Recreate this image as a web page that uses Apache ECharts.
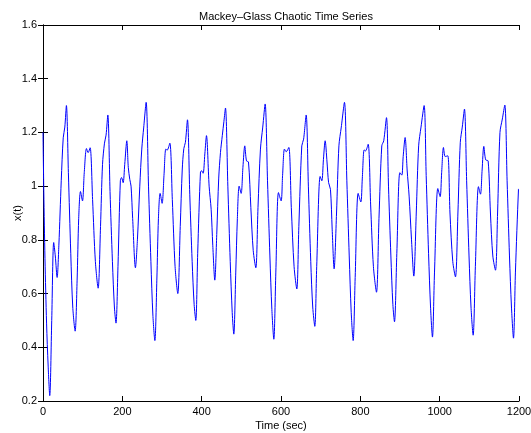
<!DOCTYPE html>
<html><head><meta charset="utf-8">
<script src="https://cdn.jsdelivr.net/npm/echarts@6/dist/echarts.min.js"></script>
<style>html,body{margin:0;padding:0;background:#fff}#c{width:531px;height:433px}</style>
</head><body><div id="c"></div>
<script>
const titleText = "Mackey\u2013Glass Chaotic Time Series";
const xName = "Time (sec)";
const yName = "x(t)";
const xTicks = [0, 200, 400, 600, 800, 1000, 1200];
const yTicks = [0.2, 0.4, 0.6, 0.8, 1, 1.2, 1.4, 1.6];
const times = [
0,2,5,9,13,17,22,27,31,35.6,40,46,51,55,59,64,70,75,81,86,90,94.5,99.5,104,109.6,113.8,118.8,125,132,139,
145,150,155,159,163.4,169,175,180,184,189,195,198,202,206,211.3,215,218.8,222,226,233,238,244,249,254,260,266,272,277,282,287,
291,295.3,300.3,305,309.6,313,319.7,326,333,339.8,346,351,355,359,364.2,370,376,381,385.2,390,397,400,403.7,408,412.1,418.8,423.9,428,433.1,438,
443,447.4,452,456,460,466,472,477,481,486,490,494.5,499.5,504,508.7,513,518,524,530,536.5,542,548.2,554,560,566,572,577,581.9,587,593.6,
600.3,604,608.7,613,619.7,626,633,639.8,645,652.4,657,663.4,669,675,680,685.2,690,698.6,702.9,707,711.3,716,720,724.7,729,733.9,740,746,752,760,
766,772,777,781.9,787,794.5,801.2,805,809.6,813,819.7,826,833,840.7,847,854.1,859,865.9,871,877,882,886.1,892,899.5,904.5,908,912.9,918,923,929,
934.8,941,947,953,960.8,966,972,977,981.8,987,995.3,1001.2,1005,1009.6,1014,1020.5,1026,1033,1039.8,1046,1052,1057,1062.5,1068,1074,1079,1084.4,1090,1097.8,1102.9,
1107,1111.3,1116,1122.2,1128,1134,1140.7,1146,1152,1158,1164.2,1170,1176,1181,1186.1,1191,1198.7,1200
];
const values = [
1.20,0.98,0.73,0.49,0.33,0.22,0.50,0.79,0.74,0.66,0.78,1.02,1.18,1.22,1.30,1.05,0.75,0.55,0.46,0.65,0.88,0.98,0.945,1.05,1.14,1.125,1.143,0.95,0.72,0.62,
0.85,1.08,1.16,1.19,1.265,0.98,0.72,0.55,0.49,0.70,1.02,1.032,1.013,1.08,1.169,1.07,1.025,1.0,0.88,0.696,0.80,1.0,1.138,1.22,1.312,1.00,0.72,0.52,0.425,0.65,
0.88,0.973,0.936,1.04,1.138,1.134,1.16,0.95,0.70,0.60,0.85,1.06,1.14,1.163,1.247,0.97,0.72,0.56,0.50,0.75,1.053,1.057,1.048,1.12,1.188,1.0,0.914,0.78,0.65,0.82,
1.03,1.125,1.188,1.24,1.291,1.00,0.72,0.53,0.449,0.68,0.88,1.0,0.973,1.07,1.15,1.094,1.09,0.92,0.76,0.696,0.92,1.138,1.22,1.306,1.02,0.74,0.54,0.43,0.68,0.976,
0.945,1.04,1.138,1.128,1.144,0.92,0.70,0.617,0.85,1.15,1.175,1.265,1.00,0.72,0.55,0.478,0.70,1.036,1.02,1.10,1.169,1.09,1.013,0.988,0.84,0.692,0.90,1.15,1.22,1.312,
1.02,0.74,0.53,0.425,0.66,0.973,0.941,1.03,1.135,1.131,1.156,0.93,0.70,0.605,0.88,1.15,1.169,1.255,1.00,0.74,0.56,0.495,0.75,1.05,1.041,1.11,1.181,1.06,0.963,0.80,
0.665,0.90,1.15,1.22,1.30,1.04,0.75,0.55,0.438,0.68,0.991,0.961,1.05,1.144,1.11,1.113,0.90,0.72,0.662,0.90,1.163,1.22,1.287,1.02,0.74,0.55,0.445,0.70,0.998,0.97,
1.06,1.148,1.098,1.094,0.90,0.74,0.687,0.90,1.20,1.25,1.302,1.02,0.74,0.55,0.434,0.68,0.988,0.99
];
const seriesData = times.map((t, i) => [t, values[i]]);
const font = "'Liberation Sans', Arial, Helvetica, sans-serif";
const chart = echarts.init(document.getElementById('c'), null, {renderer: 'canvas'});
const xMin = xTicks[0], xMax = xTicks[xTicks.length - 1], xInt = xTicks[1] - xTicks[0];
const yMin = yTicks[0], yMax = yTicks[yTicks.length - 1], yInt = 0.2;
const baseAxis = {
  axisLine: {show: true, lineStyle: {color: '#000', width: 1}},
  axisTick: {show: true, inside: true, length: 5, lineStyle: {color: '#000'}},
  splitLine: {show: false}
};
chart.setOption({
  animation: false,
  backgroundColor: '#fff',
  title: {text: titleText, left: 281, textAlign: 'center', top: 6,
    textStyle: {fontFamily: font, fontSize: 11, fontWeight: 'normal', color: '#000'}},
  grid: {left: 43, right: 12, top: 25, bottom: 32, containLabel: false, outerBoundsMode: 'none'},
  xAxis: [
    Object.assign({}, baseAxis, {type: 'value', min: xMin, max: xMax, interval: xInt, position: 'bottom',
      name: xName, nameLocation: 'middle', nameGap: 19, nameMoveOverlap: false,
      nameTextStyle: {fontFamily: font, fontSize: 11, color: '#000'},
      axisLabel: {margin: 5, fontFamily: font, fontSize: 11, color: '#000', formatter: v => String(v)}}),
    Object.assign({}, baseAxis, {type: 'value', min: xMin, max: xMax, interval: xInt, position: 'top',
      axisLabel: {show: false}})
  ],
  yAxis: [
    Object.assign({}, baseAxis, {type: 'value', min: yMin, max: yMax, interval: yInt, position: 'left',
      name: yName, nameLocation: 'middle', nameGap: 20, nameRotate: 90, nameMoveOverlap: false,
      nameTextStyle: {fontFamily: font, fontSize: 11, color: '#000'},
      axisLabel: {margin: 6, fontFamily: font, fontSize: 11, color: '#000',
        formatter: v => String(Math.round(v * 10) / 10)}}),
    Object.assign({}, baseAxis, {type: 'value', min: yMin, max: yMax, interval: yInt, position: 'right',
      axisLabel: {show: false}})
  ],
  series: [{
    type: 'line', data: seriesData, xAxisIndex: 0, yAxisIndex: 0,
    showSymbol: false, smooth: 0.3,
    lineStyle: {color: '#0000ff', width: 1}, itemStyle: {color: '#0000ff'}
  }]
});
</script></body></html>
